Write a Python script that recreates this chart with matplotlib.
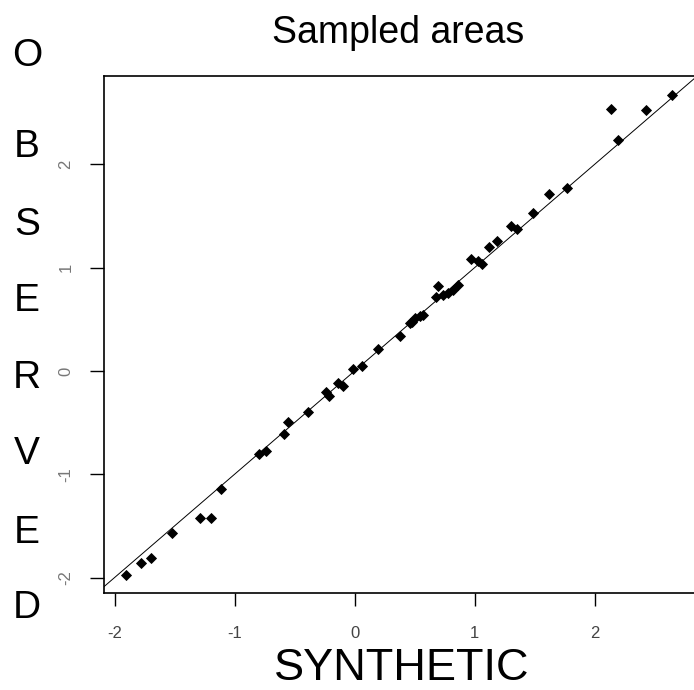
import matplotlib
matplotlib.use("Agg")
import matplotlib.pyplot as plt

plt.rcParams['font.family'] = ['Liberation Sans', 'DejaVu Sans']

synthetic = [-1.904, -1.777, -1.698, -1.518, -1.288, -1.198, -1.115, -0.798,
             -0.738, -0.585, -0.554, -0.385, -0.240, -0.215, -0.135, -0.100,
             -0.015, 0.060, 0.193, 0.379, 0.462, 0.477, 0.504, 0.545, 0.573,
             0.679, 0.698, 0.740, 0.780, 0.823, 0.865, 0.971, 1.032, 1.060,
             1.121, 1.185, 1.304, 1.352, 1.490, 1.621, 1.773, 2.198, 2.140,
             2.426, 2.643]
observed = [-1.975, -1.862, -1.810, -1.571, -1.426, -1.426, -1.139, -0.803,
            -0.771, -0.610, -0.491, -0.400, -0.205, -0.240, -0.119, -0.145,
            0.016, 0.048, 0.216, 0.342, 0.461, 0.475, 0.510, 0.530, 0.542,
            0.719, 0.823, 0.736, 0.752, 0.784, 0.833, 1.087, 1.068, 1.036,
            1.203, 1.261, 1.404, 1.372, 1.527, 1.713, 1.775, 2.236, 2.536,
            2.527, 2.669]
ticks = [-2, -1, 0, 1, 2]
ylabel_letters = ["O", "B", "S", "E", "R", "V", "E", "D"]

W, H = 694, 690
fig = plt.figure(figsize=(W / 100, H / 100), dpi=100)
ax = fig.add_axes([104 / W, (H - 593) / H, 1 - 104 / W, (593 - 75.7) / H])

ax.plot(synthetic, observed, "D", color="black", markersize=4.8, mew=0.6)
ax.plot([-3, 3], [-3, 3], color="black", lw=0.7)

ax.set_xlim(-2.0875, 2.829)
ax.set_ylim(-2.149, 2.859)
ax.set_xticks(ticks)
ax.set_yticks(ticks)
ax.set_xticklabels([str(t) for t in ticks], color="#444444")
ax.set_yticklabels([str(t) for t in ticks], color="#777777", rotation=90, va="center")
ax.tick_params(axis="x", length=9.4, width=1, pad=14, labelsize=12)
ax.tick_params(axis="y", length=10, width=1, pad=12, labelsize=12)
ax.spines["right"].set_visible(False)
for s in ["left", "top", "bottom"]:
    ax.spines[s].set_linewidth(1.2)

fig.text(398 / W, 1 - 33 / H, "Sampled areas", fontsize=27, ha="center", va="center")
fig.text(402 / W, 1 - 680 / H, "SYNTHETIC", fontsize=32.5, ha="center", va="baseline")

letter_y = [51.5, 143, 221, 297, 374, 450, 529, 604]
for ch, yc in zip(ylabel_letters, letter_y):
    fig.text(27 / W, 1 - (yc + 14) / H, ch, fontsize=28, ha="center", va="baseline")

fig.savefig("out.png", dpi=100)
